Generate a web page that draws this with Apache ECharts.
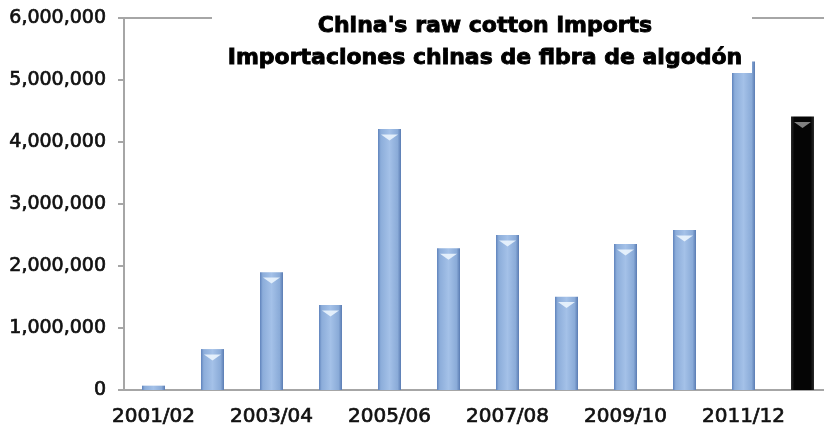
<!DOCTYPE html>
<html>
<head>
<meta charset="utf-8">
<script src="https://cdn.jsdelivr.net/npm/echarts@6/dist/echarts.min.js"></script>
<style>
  html, body { margin: 0; padding: 0; background: #fff; }
  #chart { width: 824px; height: 425px; }
</style>
</head>
<body>
<div id="chart"></div>
<script>
// Marketing seasons (the last one is a projection, drawn in black)
const seasons = ['2001/02', '2002/03', '2003/04', '2004/05', '2005/06', '2006/07',
                 '2007/08', '2008/09', '2009/10', '2010/11', '2011/12', '2012/13'];
// Raw cotton imports, tonnes
const imports = [70000, 660000, 1900000, 1370000, 4210000, 2285000,
                 2500000, 1505000, 2355000, 2580000, 5300000, 4410000];
const projectedIndex = 11;

const titleLines = ["China's raw cotton imports", 'Importaciones chinas de fibra de algodón'];

const blueBar = {
  type: 'linear', x: 0, y: 0, x2: 1, y2: 0,
  colorStops: [
    { offset: 0, color: '#5f83bc' },
    { offset: 0.12, color: '#8cadda' },
    { offset: 0.5, color: '#a4c1e8' },
    { offset: 0.85, color: '#8aabd8' },
    { offset: 1, color: '#5a7cb3' }
  ]
};
const blackBar = {
  type: 'linear', x: 0, y: 0, x2: 1, y2: 0,
  colorStops: [
    { offset: 0, color: '#2a2a2a' },
    { offset: 0.15, color: '#050505' },
    { offset: 0.85, color: '#050505' },
    { offset: 1, color: '#2a2a2a' }
  ]
};

const barData = imports.map((v, i) => ({
  value: v,
  itemStyle: { color: i === projectedIndex ? blackBar : blueBar }
}));
// Bevel highlight on the bar tops; skipped on bars too short to hold it
const bevelData = imports.map((v, i) => ({
  value: v,
  itemStyle: {
    color: i === projectedIndex ? 'rgba(150,150,150,0.85)' : 'rgba(240,248,255,0.85)',
    opacity: v < 200000 ? 0 : 1
  }
}));

const labelFont = {
  fontFamily: 'DejaVu Sans',
  color: '#111',
  textBorderColor: '#111',
  textBorderWidth: 0.7
};

const chart = echarts.init(document.getElementById('chart'), null, { renderer: 'canvas' });
chart.setOption({
  animation: false,
  backgroundColor: '#ffffff',
  title: {
    text: titleLines.join('\n'),
    left: 480,
    top: 5,
    textAlign: 'center',
    z: 7,
    textStyle: {
      fontFamily: 'DejaVu Sans',
      fontWeight: 'bold',
      fontSize: 22,
      lineHeight: 32,
      color: '#000',
      textBorderColor: '#000',
      textBorderWidth: 0.9
    }
  },
  graphic: [{
    type: 'rect',
    z: 5,
    shape: { x: 212, y: 0, width: 540, height: 73 },
    style: { fill: '#ffffff' }
  }],
  grid: {
    left: 124,
    top: 18,
    width: 708,
    height: 372,
    outerBoundsMode: 'none',
    containLabel: false,
    show: true,
    borderColor: '#a6a6a6',
    borderWidth: 2,
    backgroundColor: 'transparent'
  },
  xAxis: {
    type: 'category',
    data: seasons,
    axisLine: { lineStyle: { color: '#a6a6a6', width: 2 } },
    axisTick: { interval: 1, length: 6, lineStyle: { color: '#a6a6a6', width: 2 } },
    axisLabel: Object.assign({
      interval: 1,
      margin: 17,
      fontSize: 20
    }, labelFont)
  },
  yAxis: {
    type: 'value',
    min: 0,
    max: 6000000,
    interval: 1000000,
    splitLine: { show: false },
    axisLine: { show: true, lineStyle: { color: '#a6a6a6', width: 2 } },
    axisTick: { show: true, length: 6, lineStyle: { color: '#a6a6a6', width: 2 } },
    axisLabel: Object.assign({
      margin: 18,
      fontSize: 19,
      formatter: v => v.toLocaleString('en-US')
    }, labelFont)
  },
  series: [
    {
      type: 'bar',
      data: barData,
      barWidth: 23,
      z: 2
    },
    {
      type: 'pictorialBar',
      data: bevelData,
      symbol: 'path://M0,0 L10,0 L5,6 Z',
      symbolSize: [17, 6],
      symbolPosition: 'end',
      symbolOffset: [0, '90%'],
      barGap: '-100%',
      z: 3
    }
  ]
});
</script>
</body>
</html>
